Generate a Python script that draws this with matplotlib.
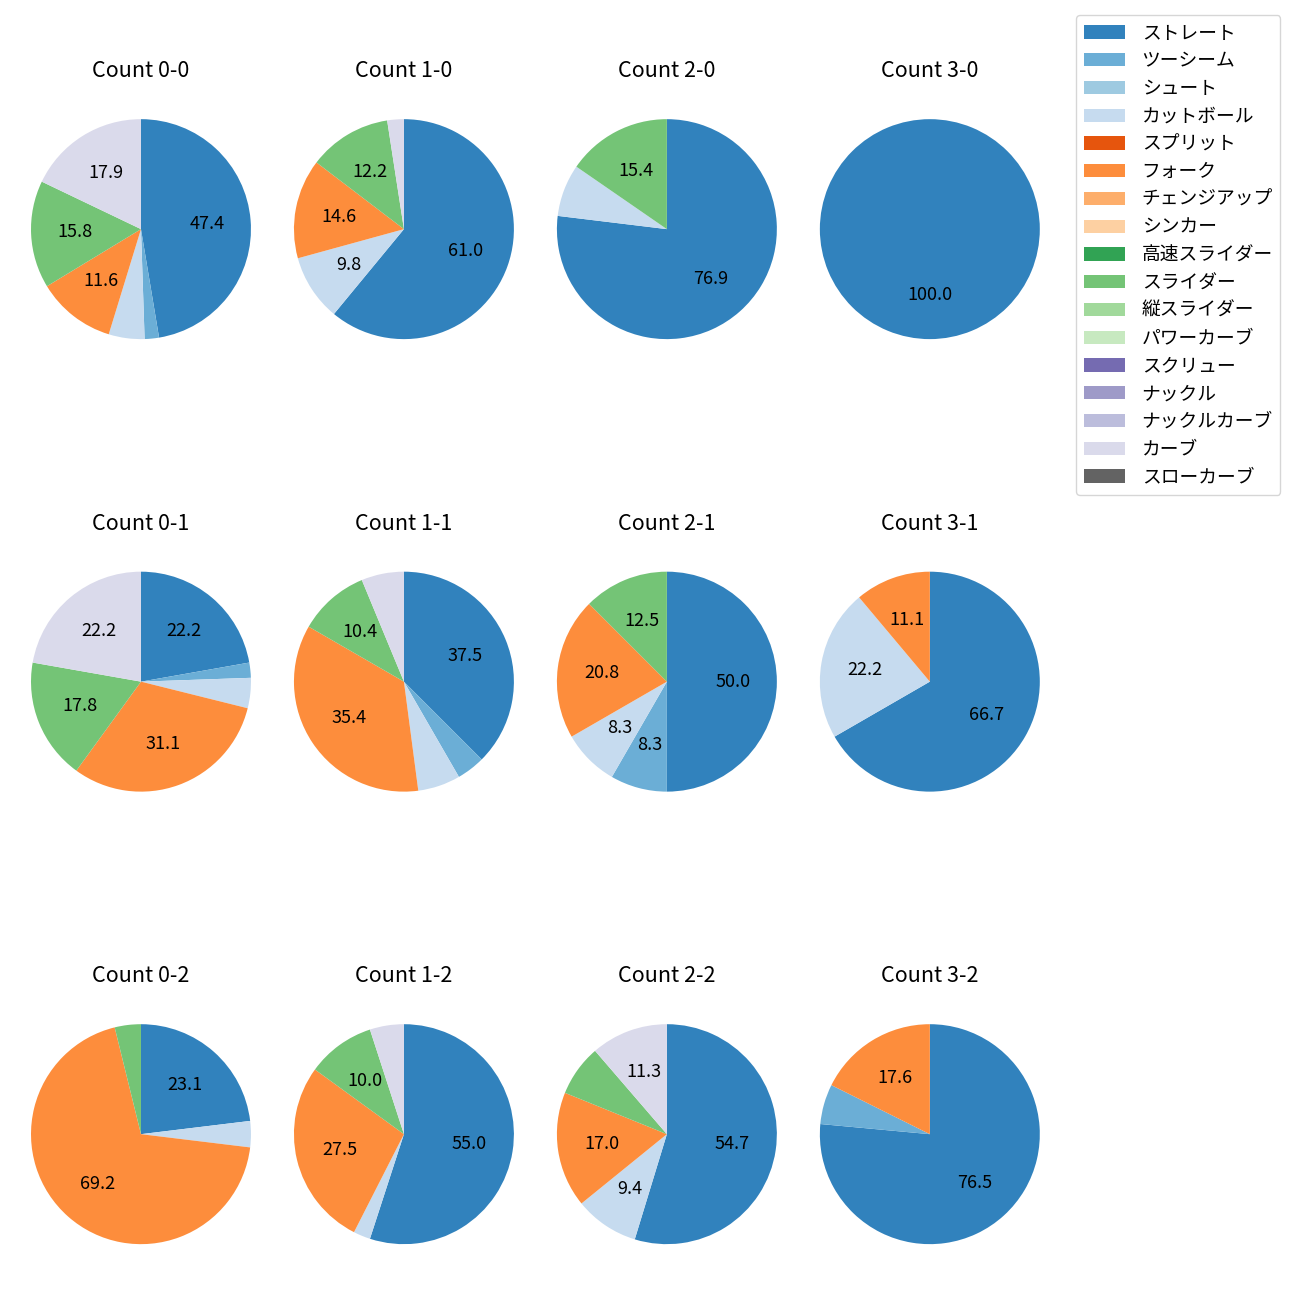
import matplotlib
matplotlib.use('Agg')
import matplotlib.pyplot as plt
from matplotlib.patches import Patch

plt.rcParams['font.family'] = ['Noto Sans CJK JP', 'DejaVu Sans']

# Pitch types (legend order) and colours
pitch_types = ['ストレート', 'ツーシーム', 'シュート', 'カットボール', 'スプリット',
               'フォーク', 'チェンジアップ', 'シンカー', '高速スライダー', 'スライダー',
               '縦スライダー', 'パワーカーブ', 'スクリュー', 'ナックル', 'ナックルカーブ',
               'カーブ', 'スローカーブ']
colors = ['#3182bd', '#6baed6', '#9ecae1', '#c6dbef', '#e6550d',
          '#fd8d3c', '#fdae6b', '#fdd0a2', '#31a354', '#74c476',
          '#a1d99b', '#c7e9c0', '#756bb1', '#9e9ac8', '#bcbddc',
          '#dadaeb', '#636363']

# pitch counts per ball-strike count (same order as pitch_types)
#          St Tw Sh Ct Sp Fk Ch Si HS Sl VS PC Sc Kn KC Cv SC
c_0_0 = [45, 2, 0, 5, 0, 11, 0, 0, 0, 15, 0, 0, 0, 0, 0, 17, 0]
c_1_0 = [25, 0, 0, 4, 0, 6, 0, 0, 0, 5, 0, 0, 0, 0, 0, 1, 0]
c_2_0 = [10, 0, 0, 1, 0, 0, 0, 0, 0, 2, 0, 0, 0, 0, 0, 0, 0]
c_3_0 = [5, 0, 0, 0, 0, 0, 0, 0, 0, 0, 0, 0, 0, 0, 0, 0, 0]
c_0_1 = [10, 1, 0, 2, 0, 14, 0, 0, 0, 8, 0, 0, 0, 0, 0, 10, 0]
c_1_1 = [18, 2, 0, 3, 0, 17, 0, 0, 0, 5, 0, 0, 0, 0, 0, 3, 0]
c_2_1 = [12, 2, 0, 2, 0, 5, 0, 0, 0, 3, 0, 0, 0, 0, 0, 0, 0]
c_3_1 = [6, 0, 0, 2, 0, 1, 0, 0, 0, 0, 0, 0, 0, 0, 0, 0, 0]
c_0_2 = [6, 0, 0, 1, 0, 18, 0, 0, 0, 1, 0, 0, 0, 0, 0, 0, 0]
c_1_2 = [22, 0, 0, 1, 0, 11, 0, 0, 0, 4, 0, 0, 0, 0, 0, 2, 0]
c_2_2 = [29, 0, 0, 5, 0, 9, 0, 0, 0, 4, 0, 0, 0, 0, 0, 6, 0]
c_3_2 = [13, 1, 0, 0, 0, 3, 0, 0, 0, 0, 0, 0, 0, 0, 0, 0, 0]

counts = {
    '0-0': c_0_0, '1-0': c_1_0, '2-0': c_2_0, '3-0': c_3_0,
    '0-1': c_0_1, '1-1': c_1_1, '2-1': c_2_1, '3-1': c_3_1,
    '0-2': c_0_2, '1-2': c_1_2, '2-2': c_2_2, '3-2': c_3_2,
}
strikes = [0, 1, 2]
balls = [0, 1, 2, 3]


def pct_label(p):
    return f'{p:.1f}' if p >= 8 else ''


fig, axes = plt.subplots(3, 4, figsize=(13, 13), dpi=100)
fig.subplots_adjust(left=0.0027, right=0.821, wspace=-0.0436,
                    top=0.939, bottom=0.0123, hspace=0.51)

for r, s in enumerate(strikes):
    for c, b in enumerate(balls):
        ax = axes[r, c]
        key = f'{b}-{s}'
        vals = counts[key]
        idx = [i for i, v in enumerate(vals) if v > 0]
        ax.pie([vals[i] for i in idx], colors=[colors[i] for i in idx],
               startangle=90, counterclock=False, autopct=pct_label,
               textprops={'fontsize': 13})
        ax.set_title(f'Count {key}', fontsize=15.5, pad=10.5)

handles = [Patch(facecolor=col) for col in colors]
fig.legend(handles, pitch_types, loc='upper left', fontsize=13.5,
           handlelength=2.2, handletextpad=0.9, labelspacing=0.36,
           borderaxespad=0, bbox_to_anchor=(1076 / 1300, 1 - 15 / 1300))

fig.savefig('out.png', dpi=100)
